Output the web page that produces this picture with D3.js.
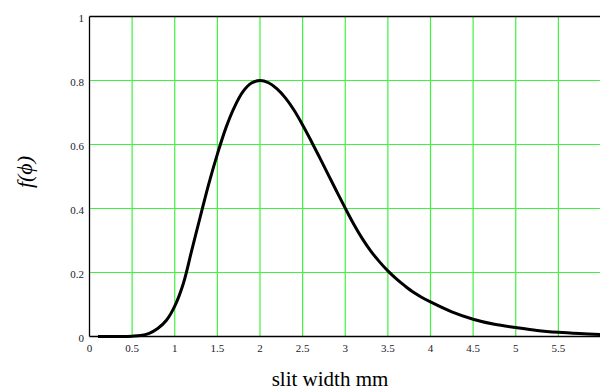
<!DOCTYPE html>
<html>
<head>
<meta charset="UTF-8">
<script src="https://cdn.jsdelivr.net/npm/d3@7"></script>
<style>
    body { margin: 0; background: #fff; }
    text { font-family: "Liberation Serif", "Times New Roman", serif; }
</style>
</head>
<body>
<script>
    // values
    var xs = [0.1, 0.5, 0.6, 0.7, 0.8, 0.9, 1.0, 1.1, 1.2, 1.3, 1.4, 1.5, 1.6, 1.7, 1.8, 1.9, 2.0,
        2.1, 2.2, 2.3, 2.4, 2.5, 2.6, 2.7, 2.8, 2.9, 3.0, 3.1, 3.2, 3.3, 3.4, 3.5, 3.6, 3.7, 3.8, 3.9,
        4.0, 4.25, 4.5, 4.75, 5.0, 5.25, 5.5, 5.75, 6.0];
    var fs = [0, 0.001, 0.003, 0.01, 0.025, 0.05, 0.095, 0.165, 0.27, 0.375, 0.478, 0.57, 0.652,
        0.717, 0.765, 0.792, 0.80, 0.793, 0.774, 0.745, 0.707, 0.661, 0.611, 0.559, 0.506, 0.453,
        0.401, 0.351, 0.306, 0.267, 0.234, 0.205, 0.18, 0.158, 0.138, 0.122,
        0.108, 0.077, 0.054, 0.038, 0.028, 0.019, 0.013, 0.009, 0.006];
    var xTicks = [0, 0.5, 1, 1.5, 2, 2.5, 3, 3.5, 4, 4.5, 5, 5.5];
    var yTicks = [0, 0.2, 0.4, 0.6, 0.8, 1];

    var width = 600, height = 390;
    var svg = d3.select("body").append("svg").attr("width", width).attr("height", height);

    var x = d3.scaleLinear().domain([0, 6]).range([89.5, 601]);
    var y = d3.scaleLinear().domain([0, 1]).range([336.5, 16.5]);

    // grid
    svg.selectAll(".vg").data(xTicks.filter(function(d) { return d > 0; })).enter().append("line")
        .attr("x1", function(d) { return x(d); }).attr("x2", function(d) { return x(d); })
        .attr("y1", y(0)).attr("y2", y(1))
        .attr("stroke", "#3ef23e").attr("stroke-width", 1.2);
    svg.selectAll(".hg").data(yTicks.filter(function(d) { return d > 0 && d < 1; })).enter().append("line")
        .attr("y1", function(d) { return y(d); }).attr("y2", function(d) { return y(d); })
        .attr("x1", x(0)).attr("x2", width)
        .attr("stroke", "#3ef23e").attr("stroke-width", 1.2);

    // frame
    svg.append("line").attr("x1", x(0)).attr("x2", width).attr("y1", y(1)).attr("y2", y(1))
        .attr("stroke", "#000").attr("stroke-width", 1.3);
    svg.append("line").attr("x1", x(0)).attr("x2", width).attr("y1", y(0)).attr("y2", y(0))
        .attr("stroke", "#000").attr("stroke-width", 1.3);
    svg.append("line").attr("x1", x(0)).attr("x2", x(0)).attr("y1", y(0)).attr("y2", y(1))
        .attr("stroke", "#000").attr("stroke-width", 1.3);

    // curve
    var pts = xs.map(function(d, i) { return [d, fs[i]]; });
    var line = d3.line().x(function(d) { return x(d[0]); }).y(function(d) { return y(d[1]); })
        .curve(d3.curveCatmullRom.alpha(0.5));
    svg.append("path").datum(pts).attr("d", line).attr("fill", "none")
        .attr("stroke", "#000").attr("stroke-width", 3).attr("stroke-linejoin", "round");

    // tick labels
    svg.selectAll(".xt").data(xTicks).enter().append("text")
        .attr("x", function(d) { return x(d); }).attr("y", 352)
        .attr("text-anchor", "middle").attr("font-size", "11px").attr("fill", "#1a1a2a")
        .text(function(d) { return d; });
    svg.selectAll(".yt").data(yTicks).enter().append("text")
        .attr("x", 84).attr("y", function(d) { return y(d) + 5; })
        .attr("text-anchor", "end").attr("font-size", "11px").attr("fill", "#1a1a2a")
        .text(function(d) { return d; });

    // titles
    svg.append("text").attr("x", 330).attr("y", 386).attr("text-anchor", "middle")
        .attr("font-size", "21px").attr("fill", "#000").text("slit width mm");
    svg.append("text").attr("transform", "translate(32,172) rotate(-90)").attr("text-anchor", "middle")
        .attr("font-size", "22px").attr("font-style", "italic").attr("fill", "#000").text("f(ϕ)");
</script>
</body>
</html>
